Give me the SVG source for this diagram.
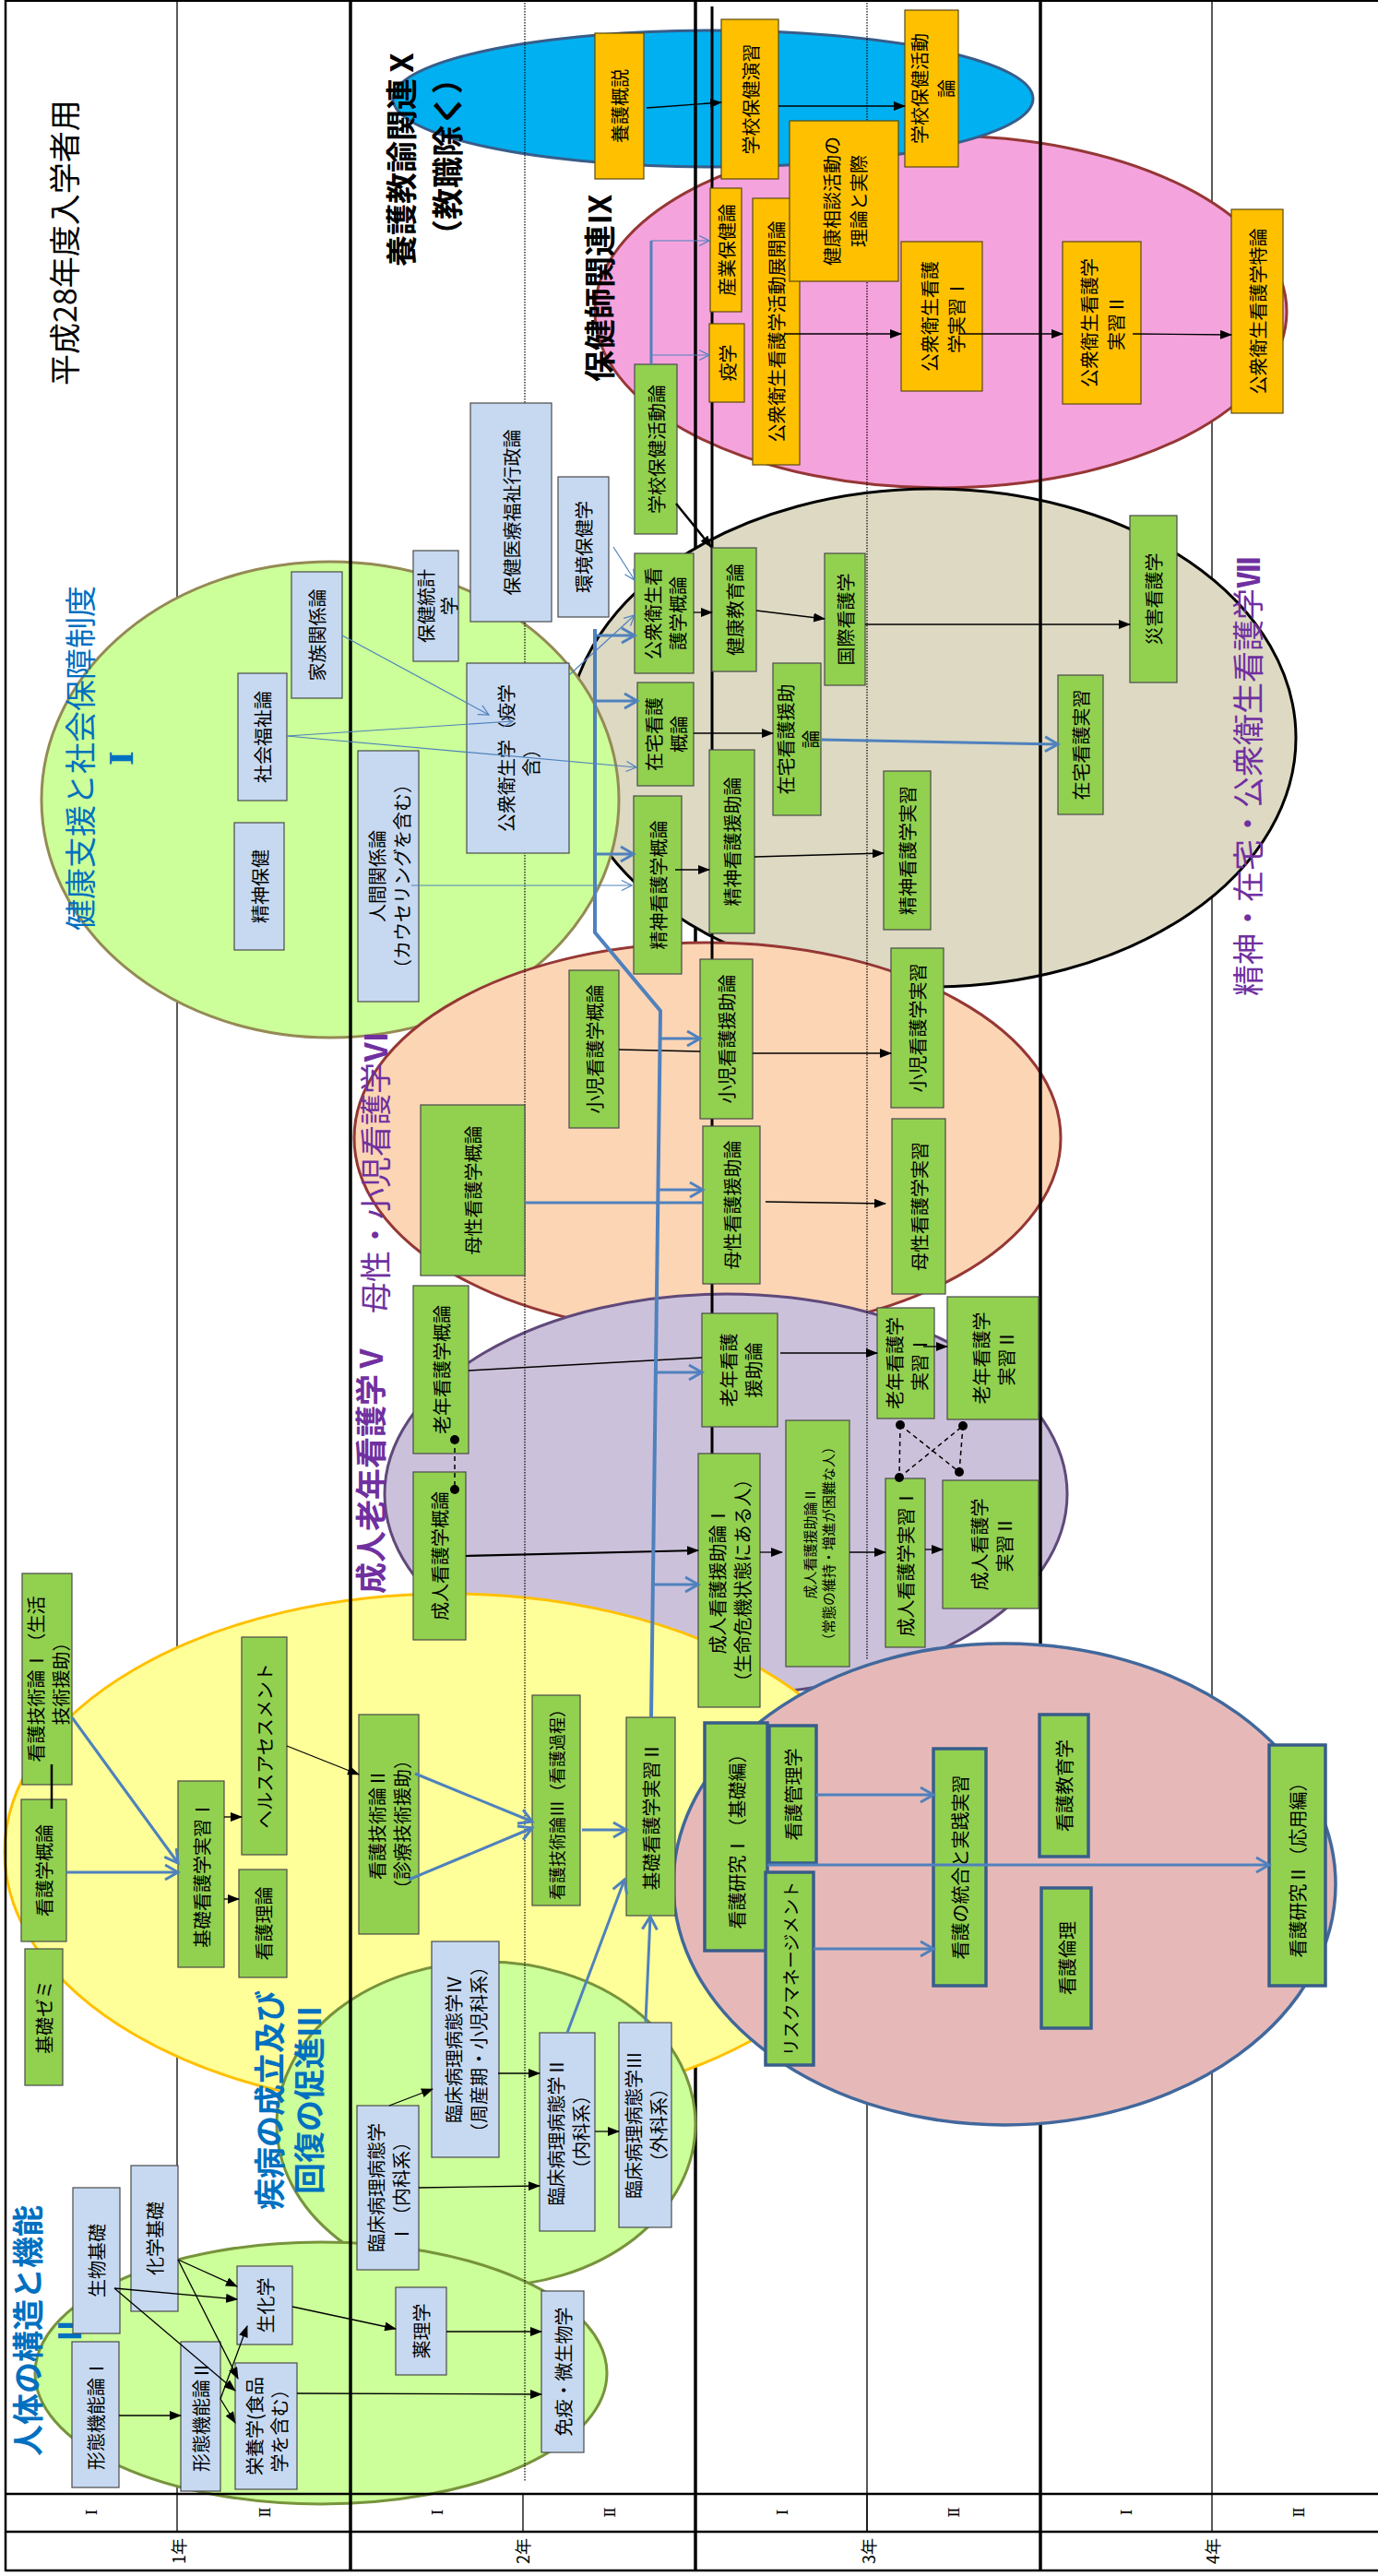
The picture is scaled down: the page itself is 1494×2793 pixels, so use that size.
<svg xmlns="http://www.w3.org/2000/svg" width="1494" height="2793" viewBox="0 0 1494 2793">
<style>
text{font-family:"Noto Sans CJK JP","Noto Sans",sans-serif;text-anchor:middle;dominant-baseline:central;fill:#000}
tspan{dominant-baseline:central}
.b{font-size:20px}
.s{font-size:15px}
.ttl{font-size:34px}
.bd{font-weight:bold}
.blue{fill:#0070C0}
.pur{fill:#7030A0}
.g rect{fill:#92D050;stroke:#4a4a4a;stroke-width:1.2}
.o rect{fill:#FFC000;stroke:#5a4a10;stroke-width:1.2}
.lb rect{fill:#C6D9F1;stroke:#4a4a4a;stroke-width:1.2}
.gb rect{fill:#92D050;stroke:#385D8A;stroke-width:3.5}
.k{stroke:#000;stroke-width:1.3;fill:none}
.kh{marker-end:url(#ab)}
.bl{stroke:#4F81BD;stroke-width:3;fill:none}
.bt{stroke:#4F81BD;stroke-width:1.2;fill:none}
.ho{marker-end:url(#ao)}
.ht{marker-end:url(#at)}
.dash{stroke:#000;stroke-width:1.5;stroke-dasharray:5,4;fill:none}
.thin{stroke:#000;stroke-width:1.3}
.thick{stroke:#000;stroke-width:3.5}
.dot{stroke:#000;stroke-width:1.2;stroke-dasharray:1.5,1.5}
.lab{font-size:18px}
.rn{font-family:"DejaVu Serif","Noto Sans CJK JP",serif;font-size:17px}
</style>
<defs>
<marker id="ab" markerUnits="userSpaceOnUse" markerWidth="13" markerHeight="10" refX="12" refY="5" orient="auto"><path d="M0,0 L13,5 L0,10 z" fill="#000"/></marker>
<marker id="ao" markerUnits="userSpaceOnUse" markerWidth="18" markerHeight="20" refX="15" refY="9" orient="auto" overflow="visible"><path d="M1,1 L15,9 L1,17" fill="none" stroke="#4F81BD" stroke-width="3"/></marker>
<marker id="at" markerUnits="userSpaceOnUse" markerWidth="14" markerHeight="14" refX="12" refY="6" orient="auto" overflow="visible"><path d="M1,0.5 L12,6 L1,11.5" fill="none" stroke="#4F81BD" stroke-width="1.2"/></marker>
</defs>
<rect x="0" y="0" width="1494" height="2793" fill="#fff"/>

<g id="grid-back">
<line class="thin" x1="192" y1="0" x2="192" y2="2745"/>
<line class="thin" x1="1314" y1="0" x2="1314" y2="2745"/>
<line class="thin" x1="940" y1="2250" x2="940" y2="2745"/>
</g>

<g id="regions-1">
<ellipse cx="1020" cy="338" rx="375" ry="191" fill="#F5A3DD" stroke="#953735" stroke-width="3"/>
<ellipse cx="773" cy="107" rx="347" ry="74" fill="#00B0F0" stroke="#385D8A" stroke-width="3"/>
</g>
<line class="thick" x1="754" y1="0" x2="754" y2="2787"/>
<g id="regions-2">
<ellipse cx="1010" cy="800" rx="395" ry="270" fill="#DDD9C3" stroke="#000" stroke-width="3"/>
<ellipse cx="358" cy="867" rx="313" ry="258" fill="#CCFF99" stroke="#948A54" stroke-width="3"/>
<ellipse cx="767" cy="1234" rx="383" ry="212" fill="#FCD5B5" stroke="#953735" stroke-width="3"/>
<ellipse cx="787" cy="1620" rx="370" ry="217" fill="#CCC1DA" stroke="#5F497A" stroke-width="3"/>
<ellipse cx="486" cy="2008" rx="481" ry="280" fill="#FFFF99" stroke="#FFC000" stroke-width="3"/>
<ellipse cx="527" cy="2303" rx="227" ry="176" fill="#CCFF99" stroke="#77933C" stroke-width="3"/>
<ellipse cx="348" cy="2573" rx="310" ry="142" fill="#CCFF99" stroke="#77933C" stroke-width="3"/>
</g>
<g id="grid-front">
<line class="thick" x1="380" y1="0" x2="380" y2="2787"/>
<line class="thick" x1="1128" y1="0" x2="1128" y2="2787"/>
<line class="dot" x1="569" y1="0" x2="569" y2="2690"/>
<line class="dot" x1="940" y1="0" x2="940" y2="1800"/>
<line stroke="#000" stroke-width="3" x1="772" y1="7" x2="772" y2="1748"/>
</g>
<g id="region-rose">
<ellipse cx="1089" cy="2043" rx="359" ry="261" fill="#E6B9B8" stroke="#41689C" stroke-width="3.5"/>
</g>

<g id="table">
<line stroke="#000" stroke-width="2" x1="6" y1="1" x2="1494" y2="1"/>
<line stroke="#000" stroke-width="2.5" x1="6" y1="0" x2="6" y2="2788"/>
<line stroke="#000" stroke-width="2.5" x1="6" y1="2704" x2="1494" y2="2704"/>
<line stroke="#000" stroke-width="2.5" x1="6" y1="2745" x2="1494" y2="2745"/>
<line stroke="#000" stroke-width="2.5" x1="6" y1="2787" x2="1494" y2="2787"/>
<line class="thin" x1="567" y1="2704" x2="567" y2="2745"/>
<line class="thin" x1="940" y1="2704" x2="940" y2="2745"/>
<text class="rn" transform="translate(99,2724) rotate(-90)">Ⅰ</text>
<text class="rn" transform="translate(287,2724) rotate(-90)">Ⅱ</text>
<text class="rn" transform="translate(474,2724) rotate(-90)">Ⅰ</text>
<text class="rn" transform="translate(661,2724) rotate(-90)">Ⅱ</text>
<text class="rn" transform="translate(848,2724) rotate(-90)">Ⅰ</text>
<text class="rn" transform="translate(1034,2724) rotate(-90)">Ⅱ</text>
<text class="rn" transform="translate(1221,2724) rotate(-90)">Ⅰ</text>
<text class="rn" transform="translate(1408,2724) rotate(-90)">Ⅱ</text>
<text class="lab" transform="translate(193,2766) rotate(-90)">1年</text>
<text class="lab" transform="translate(566,2766) rotate(-90)">2年</text>
<text class="lab" transform="translate(941,2766) rotate(-90)">3年</text>
<text class="lab" transform="translate(1314,2766) rotate(-90)">4年</text>
</g>

<g id="titles">
<text class="ttl" transform="translate(68,263) rotate(-90)">平成28年度入学者用</text>
<text class="ttl bd" transform="translate(458,170) rotate(-90)"><tspan x="0" y="-25">養護教諭関連Ⅹ</tspan><tspan x="0" y="25">（教職除く）</tspan></text>
<text class="ttl bd" transform="translate(648,312) rotate(-90)">保健師関連Ⅸ</text>
<text class="ttl blue" transform="translate(108,822) rotate(-90)"><tspan x="0" y="-23">健康支援と社会保障制度</tspan><tspan x="0" y="24" font-weight="bold" style="font-family:'DejaVu Serif','Noto Sans CJK JP',serif">Ⅰ</tspan></text>
<text class="ttl pur" transform="translate(1351,842) rotate(-90)">精神・在宅・公衆衛生看護学<tspan font-weight="bold">Ⅶ</tspan></text>
<text class="ttl pur" transform="translate(405,1271) rotate(-90)">母性・小児看護学<tspan font-weight="bold">Ⅵ</tspan></text>
<text class="ttl pur bd" transform="translate(400,1592) rotate(-90)">成人老年看護学Ⅴ</text>
<text class="ttl blue bd" transform="translate(311,2277) rotate(-90)"><tspan x="0" y="-21.5">疾病の成立及び</tspan><tspan x="0" y="21.5">回復の促進Ⅲ</tspan></text>
<text class="ttl blue bd" transform="translate(50,2527) rotate(-90)"><tspan x="0" y="-22.5">人体の構造と機能</tspan><tspan x="0" y="22.5">Ⅱ</tspan></text>
</g>

<g id="nodes">
<g id="n-yogo-gaisetsu" class="o"><rect x="645" y="36" width="53" height="158"/><text class="b" transform="translate(671.5,115) rotate(-90)">養護概説</text></g>
<g id="n-gakko-enshu" class="o"><rect x="782" y="21" width="62" height="173"/><text class="b" transform="translate(813,107.5) rotate(-90)">学校保健演習</text></g>
<g id="n-gakko-katsudo-o" class="o"><rect x="981" y="11" width="58" height="170"/><text class="b" transform="translate(1010,96) rotate(-90)"><tspan x="0" y="-14.5">学校保健活動</tspan><tspan x="0" y="14.5">論</tspan></text></g>
<g id="n-sangyo" class="o"><rect x="770" y="204" width="34" height="134"/><text class="b" transform="translate(787,271) rotate(-90)">産業保健論</text></g>
<g id="n-ekigaku" class="o"><rect x="769" y="351" width="38" height="85"/><text class="b" transform="translate(788,393.5) rotate(-90)">疫学</text></g>
<g id="n-tenkai" class="o"><rect x="816" y="215" width="51" height="289"/><text class="b" transform="translate(841.5,359.5) rotate(-90)">公衆衛生看護学活動展開論</text></g>
<g id="n-kenko-sodan" class="o"><rect x="856" y="131" width="118" height="174"/><text class="b" transform="translate(915,218) rotate(-90)"><tspan x="0" y="-14.5">健康相談活動の</tspan><tspan x="0" y="14.5">理論と実際</tspan></text></g>
<g id="n-koshu-jisshu1" class="o"><rect x="977" y="262" width="88" height="162"/><text class="b" transform="translate(1021,343) rotate(-90)"><tspan x="0" y="-14.5">公衆衛生看護</tspan><tspan x="0" y="14.5">学実習Ⅰ</tspan></text></g>
<g id="n-koshu-jisshu2" class="o"><rect x="1152" y="262" width="85" height="176"/><text class="b" transform="translate(1194.5,350) rotate(-90)"><tspan x="0" y="-14.5">公衆衛生看護学</tspan><tspan x="0" y="14.5">実習Ⅱ</tspan></text></g>
<g id="n-koshu-tokuron" class="o"><rect x="1335" y="227" width="56" height="221"/><text class="b" transform="translate(1363,337.5) rotate(-90)">公衆衛生看護学特論</text></g>

<g id="n-gyosei" class="lb"><rect x="510" y="437" width="88" height="237"/><text class="b" transform="translate(554,555.5) rotate(-90)">保健医療福祉行政論</text></g>
<g id="n-kankyo" class="lb"><rect x="605" y="517" width="55" height="152"/><text class="b" transform="translate(632.5,593) rotate(-90)">環境保健学</text></g>
<g id="n-tokei" class="lb"><rect x="448" y="597" width="49" height="120"/><text class="b" transform="translate(472.5,657) rotate(-90)"><tspan x="0" y="-12">保健統計</tspan><tspan x="0" y="13">学</tspan></text></g>
<g id="n-kazoku" class="lb"><rect x="316" y="620" width="55" height="137"/><text class="b" transform="translate(343.5,688.5) rotate(-90)">家族関係論</text></g>
<g id="n-shakai" class="lb"><rect x="258" y="730" width="53" height="138"/><text class="b" transform="translate(284.5,799) rotate(-90)">社会福祉論</text></g>
<g id="n-seishin-hoken" class="lb"><rect x="254" y="892" width="54" height="138"/><text class="b" transform="translate(281,961) rotate(-90)">精神保健</text></g>
<g id="n-ningen" class="lb"><rect x="388" y="814" width="66" height="272"/><text class="b" transform="translate(421,950) rotate(-90)"><tspan x="0" y="-13.5">人間関係論</tspan><tspan x="0" y="13.5">（カウセリングを含む）</tspan></text></g>
<g id="n-koshu-eisei" class="lb"><rect x="506" y="719" width="111" height="206"/><text class="b" transform="translate(561.5,822) rotate(-90)"><tspan x="0" y="-13.5">公衆衛生学（疫学</tspan><tspan x="0" y="13.5">含）</tspan></text></g>
<g id="n-seibutsu" class="lb"><rect x="79" y="2372" width="51" height="158"/><text class="b" transform="translate(104.5,2451) rotate(-90)">生物基礎</text></g>
<g id="n-kagaku" class="lb"><rect x="142" y="2348" width="51" height="158"/><text class="b" transform="translate(167.5,2427) rotate(-90)">化学基礎</text></g>
<g id="n-keitai1" class="lb"><rect x="78" y="2539" width="51" height="158"/><text class="b" transform="translate(103.5,2618) rotate(-90)">形態機能論Ⅰ</text></g>
<g id="n-keitai2" class="lb"><rect x="196" y="2539" width="43" height="162"/><text class="b" transform="translate(217.5,2620) rotate(-90)">形態機能論Ⅱ</text></g>
<g id="n-seika" class="lb"><rect x="257" y="2457" width="60" height="85"/><text class="b" transform="translate(287,2499.5) rotate(-90)">生化学</text></g>
<g id="n-eiyo" class="lb"><rect x="255" y="2562" width="67" height="137"/><text class="b" transform="translate(288.5,2630.5) rotate(-90)"><tspan x="0" y="-13.5">栄養学(食品</tspan><tspan x="0" y="13.5">学を含む）</tspan></text></g>
<g id="n-yakuri" class="lb"><rect x="429" y="2480" width="55" height="95"/><text class="b" transform="translate(456.5,2527.5) rotate(-90)">薬理学</text></g>
<g id="n-meneki" class="lb"><rect x="587" y="2484" width="46" height="175"/><text class="b" transform="translate(610,2571.5) rotate(-90)">免疫・微生物学</text></g>
<g id="n-rinsho1" class="lb"><rect x="387" y="2283" width="67" height="178"/><text class="b" transform="translate(420.5,2372) rotate(-90)"><tspan x="0" y="-13.5">臨床病理病態学</tspan><tspan x="0" y="13.5">Ⅰ（内科系）</tspan></text></g>
<g id="n-rinsho4" class="lb"><rect x="468" y="2105" width="73" height="234"/><text class="b" transform="translate(504.5,2222) rotate(-90)"><tspan x="0" y="-13.5">臨床病理病態学Ⅳ</tspan><tspan x="0" y="13.5">（周産期・小児科系）</tspan></text></g>
<g id="n-rinsho2" class="lb"><rect x="585" y="2204" width="60" height="215"/><text class="b" transform="translate(615,2311.5) rotate(-90)"><tspan x="0" y="-13.5">臨床病理病態学Ⅱ</tspan><tspan x="0" y="13.5">（内科系）</tspan></text></g>
<g id="n-rinsho3" class="lb"><rect x="671" y="2193" width="57" height="222"/><text class="b" transform="translate(699.5,2304) rotate(-90)"><tspan x="0" y="-13.5">臨床病理病態学Ⅲ</tspan><tspan x="0" y="13.5">（外科系）</tspan></text></g>

<g id="n-gakko-katsudo" class="g"><rect x="688" y="395" width="46" height="184"/><text class="b" transform="translate(711,487) rotate(-90)">学校保健活動論</text></g>
<g id="n-koshu-gairon" class="g"><rect x="688" y="600" width="64" height="130"/><text class="b" transform="translate(720,665) rotate(-90)"><tspan x="0" y="-13.5">公衆衛生看</tspan><tspan x="0" y="13.5">護学概論</tspan></text></g>
<g id="n-kenko-kyoiku" class="g"><rect x="772" y="594" width="48" height="134"/><text class="b" transform="translate(796,661) rotate(-90)">健康教育論</text></g>
<g id="n-kokusai" class="g"><rect x="894" y="600" width="44" height="143"/><text class="b" transform="translate(916,671.5) rotate(-90)">国際看護学</text></g>
<g id="n-saigai" class="g"><rect x="1225" y="559" width="51" height="181"/><text class="b" transform="translate(1250.5,649.5) rotate(-90)">災害看護学</text></g>
<g id="n-zaitaku-gairon" class="g"><rect x="691" y="740" width="61" height="112"/><text class="b" transform="translate(721.5,796) rotate(-90)"><tspan x="0" y="-13.5">在宅看護</tspan><tspan x="0" y="13.5">概論</tspan></text></g>
<g id="n-seishin-gairon" class="g"><rect x="687" y="863" width="52" height="193"/><text class="b" transform="translate(713,959.5) rotate(-90)">精神看護学概論</text></g>
<g id="n-seishin-enjo" class="g"><rect x="769" y="813" width="49" height="199"/><text class="b" transform="translate(793.5,912.5) rotate(-90)">精神看護援助論</text></g>
<g id="n-zaitaku-enjo" class="g"><rect x="838" y="719" width="52" height="165"/><text class="b" transform="translate(864,801.5) rotate(-90)"><tspan x="0" y="-13.5">在宅看護援助</tspan><tspan x="0" y="13.5">論</tspan></text></g>
<g id="n-seishin-jisshu" class="g"><rect x="958" y="836" width="51" height="172"/><text class="b" transform="translate(983.5,922) rotate(-90)">精神看護学実習</text></g>
<g id="n-zaitaku-jisshu" class="g"><rect x="1147" y="732" width="49" height="151"/><text class="b" transform="translate(1171.5,807.5) rotate(-90)">在宅看護実習</text></g>
<g id="n-bosei-gairon" class="g"><rect x="456" y="1198" width="113" height="185"/><text class="b" transform="translate(512.5,1290.5) rotate(-90)">母性看護学概論</text></g>
<g id="n-shoni-gairon" class="g"><rect x="617" y="1052" width="54" height="171"/><text class="b" transform="translate(644,1137.5) rotate(-90)">小児看護学概論</text></g>
<g id="n-shoni-enjo" class="g"><rect x="759" y="1040" width="57" height="173"/><text class="b" transform="translate(787.5,1126.5) rotate(-90)">小児看護援助論</text></g>
<g id="n-bosei-enjo" class="g"><rect x="762" y="1221" width="62" height="171"/><text class="b" transform="translate(793,1306.5) rotate(-90)">母性看護援助論</text></g>
<g id="n-shoni-jisshu" class="g"><rect x="966" y="1028" width="57" height="173"/><text class="b" transform="translate(994.5,1114.5) rotate(-90)">小児看護学実習</text></g>
<g id="n-bosei-jisshu" class="g"><rect x="967" y="1213" width="58" height="190"/><text class="b" transform="translate(996,1308) rotate(-90)">母性看護学実習</text></g>
<g id="n-ronen-gairon" class="g"><rect x="448" y="1394" width="60" height="182"/><text class="b" transform="translate(478,1485) rotate(-90)">老年看護学概論</text></g>
<g id="n-seijin-gairon" class="g"><rect x="448" y="1596" width="57" height="182"/><text class="b" transform="translate(476.5,1687) rotate(-90)">成人看護学概論</text></g>
<g id="n-ronen-enjo" class="g"><rect x="761" y="1424" width="82" height="123"/><text class="b" transform="translate(802,1485.5) rotate(-90)"><tspan x="0" y="-13.5">老年看護</tspan><tspan x="0" y="13.5">援助論</tspan></text></g>
<g id="n-seijin-enjo1" class="g"><rect x="757" y="1576" width="67" height="275"/><text class="b" transform="translate(790.5,1713.5) rotate(-90)"><tspan x="0" y="-13.5">成人看護援助論Ⅰ</tspan><tspan x="0" y="13.5">（生命危機状態にある人）</tspan></text></g>
<g id="n-seijin-enjo2" class="g"><rect x="852" y="1540" width="69" height="267"/><text class="s" transform="translate(886.5,1673.5) rotate(-90)"><tspan x="0" y="-10">成人看護援助論Ⅱ</tspan><tspan x="0" y="10">（常態の維持・増進が困難な人）</tspan></text></g>
<g id="n-ronen-jisshu1" class="g"><rect x="951" y="1418" width="62" height="120"/><text class="b" transform="translate(982,1478) rotate(-90)"><tspan x="0" y="-13.5">老年看護学</tspan><tspan x="0" y="13.5">実習Ⅰ</tspan></text></g>
<g id="n-seijin-jisshu1" class="g"><rect x="960" y="1603" width="43" height="183"/><text class="b" transform="translate(981.5,1694.5) rotate(-90)">成人看護学実習Ⅰ</text></g>
<g id="n-ronen-jisshu2" class="g"><rect x="1027" y="1406" width="99" height="133"/><text class="b" transform="translate(1076.5,1472.5) rotate(-90)"><tspan x="0" y="-13.5">老年看護学</tspan><tspan x="0" y="13.5">実習Ⅱ</tspan></text></g>
<g id="n-seijin-jisshu2" class="g"><rect x="1022" y="1605" width="104" height="139"/><text class="b" transform="translate(1074,1674.5) rotate(-90)"><tspan x="0" y="-13.5">成人看護学</tspan><tspan x="0" y="13.5">実習Ⅱ</tspan></text></g>
<g id="n-gijutsu1" class="g"><rect x="24" y="1706" width="54" height="229"/><text class="b" transform="translate(51,1820.5) rotate(-90)"><tspan x="0" y="-13.5">看護技術論Ⅰ（生活</tspan><tspan x="0" y="13.5">技術援助）</tspan></text></g>
<g id="n-kango-gairon" class="g"><rect x="23" y="1951" width="49" height="154"/><text class="b" transform="translate(47.5,2028) rotate(-90)">看護学概論</text></g>
<g id="n-kiso-zemi" class="g"><rect x="27" y="2113" width="41" height="148"/><text class="b" transform="translate(47.5,2187) rotate(-90)">基礎ゼミ</text></g>
<g id="n-kiso-jisshu1" class="g"><rect x="193" y="1931" width="50" height="202"/><text class="b" transform="translate(218,2032) rotate(-90)">基礎看護学実習Ⅰ</text></g>
<g id="n-health-assess" class="g"><rect x="262" y="1775" width="49" height="236"/><text class="b" transform="translate(286.5,1893) rotate(-90)">ヘルスアセスメント</text></g>
<g id="n-kango-riron" class="g"><rect x="259" y="2027" width="52" height="117"/><text class="b" transform="translate(285,2085.5) rotate(-90)">看護理論</text></g>
<g id="n-gijutsu2" class="g"><rect x="389" y="1859" width="65" height="238"/><text class="b" transform="translate(421.5,1978) rotate(-90)"><tspan x="0" y="-13.5">看護技術論Ⅱ</tspan><tspan x="0" y="13.5">（診療技術援助）</tspan></text></g>
<g id="n-gijutsu3" class="g"><rect x="577" y="1838" width="52" height="228"/><text class="b" style="font-size:18px" transform="translate(603,1952) rotate(-90)">看護技術論Ⅲ（看護過程）</text></g>
<g id="n-kiso-jisshu2" class="g"><rect x="679" y="1862" width="53" height="215"/><text class="b" transform="translate(705.5,1969.5) rotate(-90)">基礎看護学実習Ⅱ</text></g>

<g id="n-kenkyu1" class="gb"><rect x="764" y="1868" width="68" height="247"/><text class="b" transform="translate(798,1991.5) rotate(-90)">看護研究Ⅰ（基礎編）</text></g>
<g id="n-kanri" class="gb"><rect x="834" y="1871" width="51" height="149"/><text class="b" transform="translate(859.5,1945.5) rotate(-90)">看護管理学</text></g>
<g id="n-risk" class="gb"><rect x="830" y="2030" width="52" height="209"/><text class="b" style="font-size:19px" transform="translate(856,2134.5) rotate(-90)">リスクマネージメント</text></g>
<g id="n-togo" class="gb"><rect x="1012" y="1896" width="57" height="257"/><text class="b" transform="translate(1040.5,2024.5) rotate(-90)">看護の統合と実践実習</text></g>
<g id="n-kyoiku" class="gb"><rect x="1127" y="1859" width="53" height="154"/><text class="b" transform="translate(1153.5,1936) rotate(-90)">看護教育学</text></g>
<g id="n-rinri" class="gb"><rect x="1129" y="2047" width="54" height="152"/><text class="b" transform="translate(1156,2123) rotate(-90)">看護倫理</text></g>
<g id="n-kenkyu2" class="gb"><rect x="1376" y="1892" width="61" height="261"/><text class="b" transform="translate(1406.5,2022.5) rotate(-90)">看護研究Ⅱ（応用編）</text></g>
</g>

<g id="connectors">
<line class="k kh" x1="701" y1="117" x2="782" y2="111"/>
<line class="k kh" x1="844" y1="115" x2="981" y2="115"/>
<line class="k kh" x1="851" y1="362" x2="977" y2="362"/>
<line class="k kh" x1="1039" y1="362" x2="1152" y2="362"/>
<line class="k kh" x1="1228" y1="362" x2="1335" y2="363"/>
<line class="k kh" style="stroke-width:2.5" x1="733" y1="546" x2="771" y2="593"/>
<line class="k kh" x1="752" y1="664" x2="772" y2="664"/>
<line class="k kh" x1="820" y1="662" x2="894" y2="671"/>
<line class="k kh" x1="938" y1="677" x2="1225" y2="677"/>
<line class="k kh" x1="752" y1="795" x2="838" y2="795"/>
<line class="k kh" x1="732" y1="943" x2="769" y2="943"/>
<line class="k kh" x1="818" y1="929" x2="958" y2="925"/>
<line class="k" x1="671" y1="1138" x2="759" y2="1140"/>
<line class="k kh" x1="816" y1="1142" x2="966" y2="1142"/>
<line class="k kh" x1="830" y1="1303" x2="960" y2="1305"/>
<line class="k" x1="508" y1="1486" x2="761" y2="1472"/>
<line class="k kh" style="stroke-width:2.2" x1="505" y1="1687" x2="757" y2="1681"/>
<line class="k kh" x1="846" y1="1467" x2="951" y2="1467"/>
<line class="k kh" x1="824" y1="1683" x2="848" y2="1683"/>
<line class="k kh" x1="921" y1="1683" x2="960" y2="1683"/>
<line class="k kh" x1="1001" y1="1460" x2="1027" y2="1460"/>
<line class="k kh" x1="1003" y1="1680" x2="1022" y2="1680"/>
<line class="k kh" x1="243" y1="1970" x2="262" y2="1970"/>
<line class="k kh" x1="243" y1="2059" x2="259" y2="2059"/>
<line class="k kh" x1="311" y1="1893" x2="389" y2="1924"/>
<line class="k kh" x1="129" y1="2619" x2="196" y2="2619"/>
<line class="k kh" x1="124" y1="2481" x2="257" y2="2493"/>
<line class="k kh" x1="124" y1="2481" x2="255" y2="2592"/>
<line class="k kh" x1="193" y1="2450" x2="257" y2="2479"/>
<line class="k kh" x1="193" y1="2450" x2="258" y2="2579"/>
<line class="k kh" x1="239" y1="2601" x2="268" y2="2522"/>
<line class="k kh" x1="239" y1="2601" x2="255" y2="2627"/>
<line class="k kh" x1="317" y1="2501" x2="429" y2="2525"/>
<line class="k kh" x1="422" y1="2283" x2="469" y2="2265"/>
<line class="k kh" x1="454" y1="2372" x2="585" y2="2370"/>
<line class="k kh" x1="540" y1="2248" x2="585" y2="2248"/>
<line class="k kh" x1="645" y1="2311" x2="671" y2="2311"/>
<line class="k kh" x1="322" y1="2595" x2="587" y2="2596"/>
<line class="k kh" x1="484" y1="2528" x2="587" y2="2528"/>
<line stroke="#000" stroke-width="2.5" x1="56" y1="1913" x2="56" y2="1961"/>

<line class="dash" x1="493" y1="1561" x2="493" y2="1615"/>
<circle cx="493" cy="1561" r="5"/><circle cx="493" cy="1615" r="5"/>
<line class="dash" x1="976" y1="1545" x2="975" y2="1602"/>
<line class="dash" x1="1044" y1="1546" x2="1040" y2="1596"/>
<line class="dash" x1="976" y1="1545" x2="1040" y2="1596"/>
<line class="dash" x1="975" y1="1602" x2="1044" y2="1546"/>
<circle cx="976" cy="1545" r="5"/><circle cx="975" cy="1602" r="5"/><circle cx="1044" cy="1546" r="5"/><circle cx="1040" cy="1596" r="5"/>

<line class="bl ho" x1="78" y1="1862" x2="193" y2="2020"/>
<line class="bl ho" x1="72" y1="2030" x2="193" y2="2030"/>
<line class="bl ho" x1="450" y1="1923" x2="577" y2="1975"/>
<line class="bl ho" x1="443" y1="2038" x2="577" y2="1982"/>
<line class="bl ho" x1="631" y1="1984" x2="679" y2="1984"/>
<line class="bl ho" x1="700" y1="2192" x2="705" y2="2078"/>
<line class="bl ho" x1="615" y1="2204" x2="677" y2="2038"/>
<path class="bl" style="stroke-width:4" d="M706,1862 L716,1096 L645,1011 L645,682"/>
<line class="bl ho" x1="645" y1="689" x2="688" y2="689"/>
<line class="bl ho" x1="645" y1="760" x2="691" y2="760"/>
<line class="bl ho" x1="645" y1="926" x2="687" y2="926"/>
<line class="bl ho" x1="716" y1="1126" x2="759" y2="1126"/>
<line class="bl ho" x1="714" y1="1290" x2="762" y2="1290"/>
<line class="bl ho" x1="711" y1="1488" x2="761" y2="1488"/>
<line class="bl ho" x1="708" y1="1718" x2="757" y2="1718"/>
<line class="bl" x1="569" y1="1304" x2="762" y2="1304"/>
<line class="bl ho" x1="891" y1="802" x2="1147" y2="807"/>
<line class="bl ho" x1="885" y1="1946" x2="1012" y2="1946"/>
<line class="bl ho" x1="882" y1="2113" x2="1012" y2="2113"/>
<line class="bl ho" x1="832" y1="2022" x2="1376" y2="2022"/>
<line class="bl" x1="706" y1="395" x2="706" y2="261"/>
<line class="bt ht" x1="706" y1="261" x2="769" y2="261"/>
<line class="bt ht" x1="706" y1="385" x2="769" y2="385"/>

<line class="bt ht" x1="371" y1="689" x2="530" y2="775"/>
<line class="bt ht" x1="311" y1="798" x2="556" y2="782"/>
<line class="bt ht" x1="311" y1="798" x2="690" y2="832"/>
<line class="bt ht" x1="446" y1="960" x2="685" y2="960"/>
<line class="bt ht" x1="617" y1="732" x2="688" y2="667"/>
<line class="bt ht" x1="665" y1="593" x2="688" y2="629"/>
</g>
</svg>
